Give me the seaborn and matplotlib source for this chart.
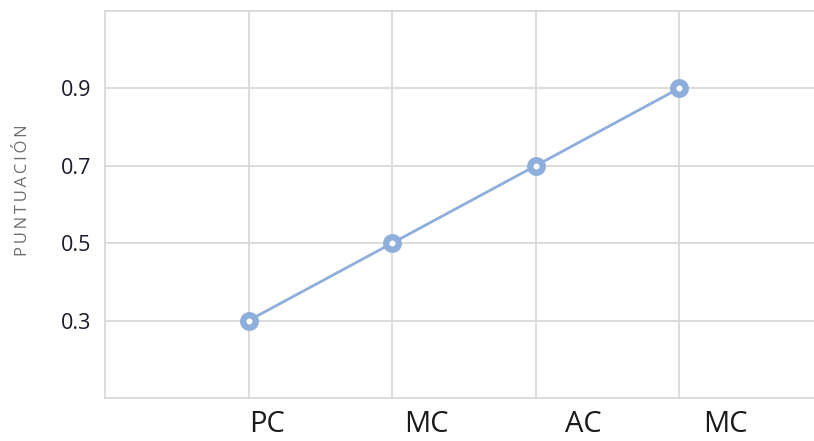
import matplotlib
matplotlib.use("Agg")
import matplotlib.pyplot as plt
import seaborn as sns
import pandas as pd

categories = ["PC", "MC", "AC", "MC"]
scores = [0.3, 0.5, 0.7, 0.9]
y_ticks = [0.1, 0.3, 0.5, 0.7, 0.9, 1.1]
y_tick_labels = ["", "0.3", "0.5", "0.7", "0.9", ""]
label_shift = [0.13, 0.24, 0.33, 0.32]  # reference labels sit right of their gridlines

sns.set_theme(style="white")
plt.rcParams['font.family'] = ['Open Sans', 'DejaVu Sans']

df = pd.DataFrame({"pos": list(range(len(categories))), "score": scores})

fig = plt.figure(figsize=(8.14, 4.41), dpi=100)
ax = fig.add_axes([105/814, 1 - 398/441, 709/814, (398 - 11)/441])

line_color = "#8eaedb"
sns.lineplot(data=df, x="pos", y="score", ax=ax, color=line_color, linewidth=2.0,
             marker="o", markersize=9, markeredgewidth=4.6,
             markerfacecolor="white", markeredgecolor=line_color, zorder=3)

ax.set_xlim(-1, 3.94)
ax.set_ylim(0.1, 1.1)
ax.set_xticks(df["pos"])
ax.set_xticklabels([""] * len(categories))
ax.set_xticks([p + s for p, s in zip(df["pos"], label_shift)], minor=True)
ax.set_xticklabels(categories, minor=True, fontsize=21, color="#1a1a1a")
ax.set_yticks(y_ticks)
ax.set_yticklabels(y_tick_labels, fontsize=15.5, color="#1a1a2a")

ax.grid(True, which="major", color="#d9d9d9", linewidth=1.3)
ax.tick_params(axis="both", which="both", length=0)
ax.tick_params(axis="y", pad=10)
ax.tick_params(axis="x", which="minor", pad=9)

ax.spines["right"].set_visible(False)
for side in ["left", "top", "bottom"]:
    ax.spines[side].set_color("#d9d9d9")
    ax.spines[side].set_linewidth(1.3)

ax.set_xlabel("")
ax.set_ylabel("\u2009".join("PUNTUACIÓN"), fontsize=12, color="#6e6e6e")
ax.yaxis.set_label_coords((31 - 105) / 709, (398 - 190) / 387)

fig.savefig("out.png", dpi=100)
